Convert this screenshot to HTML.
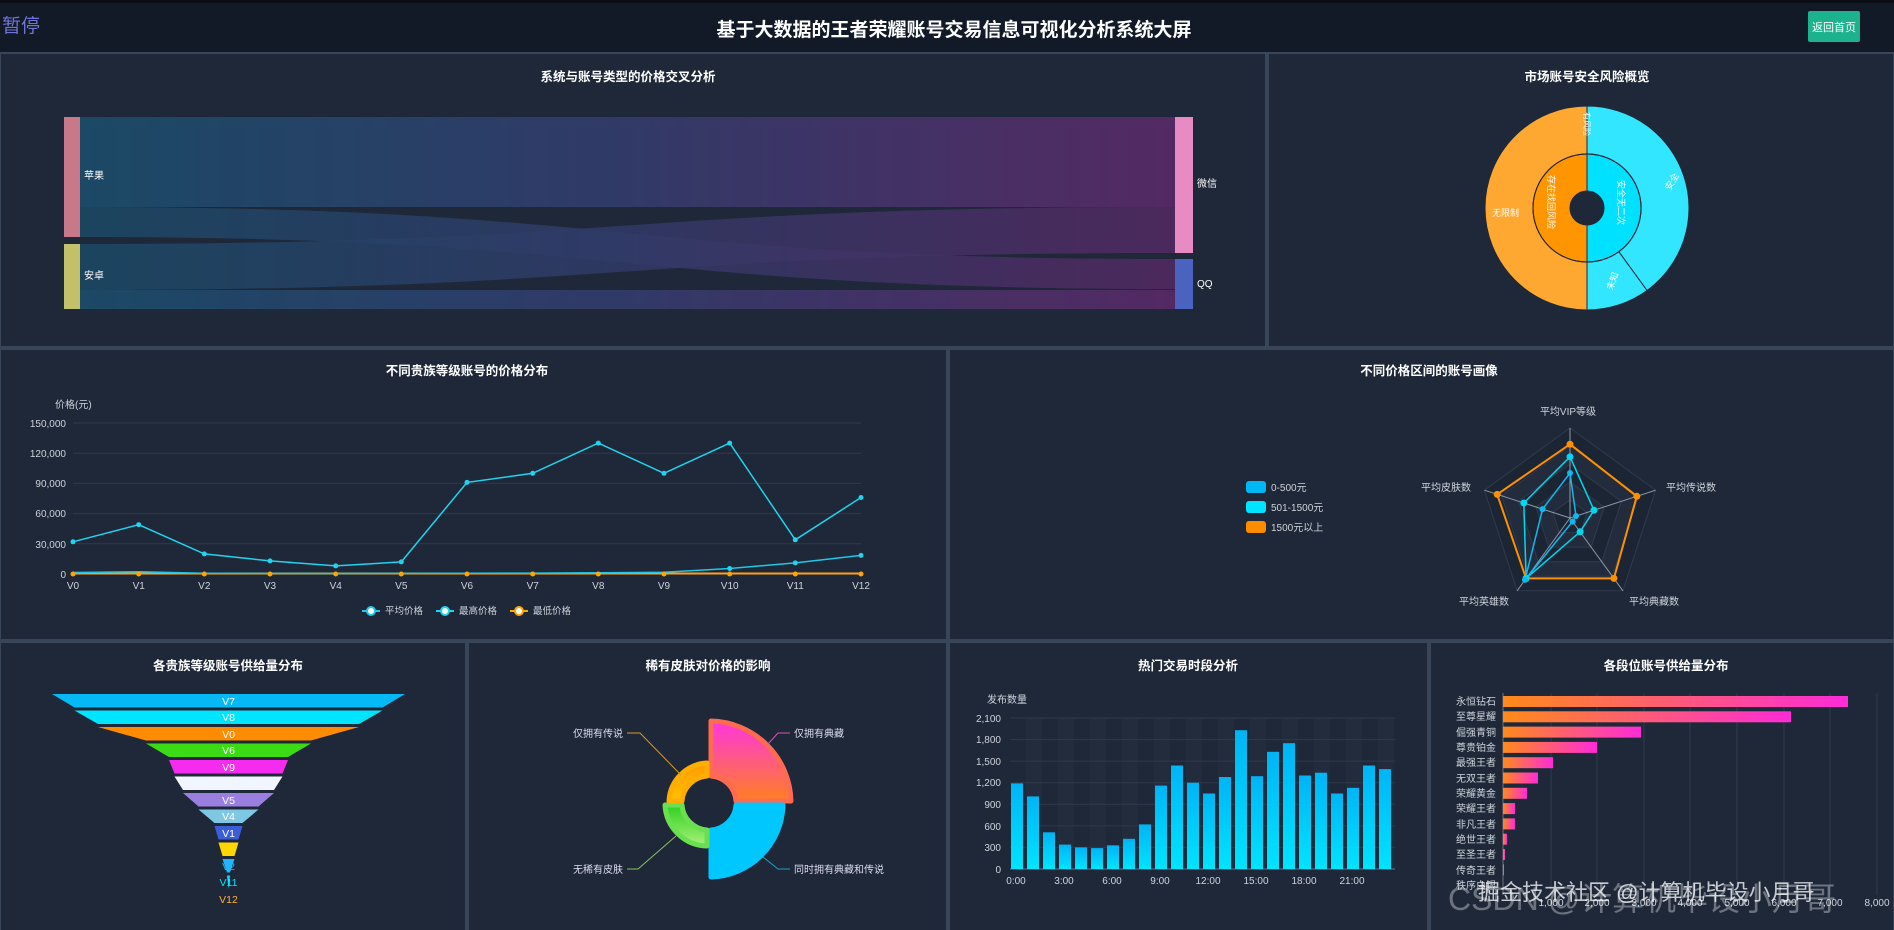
<!DOCTYPE html>
<html><head><meta charset="utf-8">
<style>
html,body{margin:0;padding:0;background:#1b2433;}
body{width:1894px;height:930px;overflow:hidden;position:relative;font-family:"Liberation Sans","Noto Sans CJK SC",sans-serif;}
svg{position:absolute;left:0;top:0;}
</style></head><body>
<svg width="1894" height="930" viewBox="0 0 1894 930" font-family="Liberation Sans, Noto Sans CJK SC, sans-serif">
<defs>
<linearGradient id="sk" x1="0" x2="1" y1="0" y2="0"><stop offset="0" stop-color="#1b4d6b"/><stop offset="0.5" stop-color="#343c6c"/><stop offset="1" stop-color="#5a2a68"/></linearGradient>
<linearGradient id="bar" x1="0" x2="0" y1="0" y2="1"><stop offset="0" stop-color="#00b4f5"/><stop offset="1" stop-color="#00e4ff"/></linearGradient>
<linearGradient id="hb" x1="0" x2="1" y1="0" y2="0"><stop offset="0" stop-color="#ff8a1a"/><stop offset="1" stop-color="#ff2bd8"/></linearGradient>
<linearGradient id="ra" x1="0" x2="0" y1="0" y2="1"><stop offset="0" stop-color="#ff35e0"/><stop offset="1" stop-color="#ff8020"/></linearGradient>
<linearGradient id="rc" x1="0" x2="0" y1="0" y2="1"><stop offset="0" stop-color="#30d020"/><stop offset="1" stop-color="#a8f07a"/></linearGradient>
<linearGradient id="rd" x1="0" x2="0" y1="0" y2="1"><stop offset="0" stop-color="#ff9a00"/><stop offset="1" stop-color="#ffc000"/></linearGradient>
</defs>
<!-- header -->
<rect x="0" y="0" width="1894" height="53" fill="#121a28"/>
<rect x="0" y="0" width="1894" height="3" fill="#0a0e14"/>
<text x="2" y="32" font-size="19" fill="#6f74d8">暂停</text>
<text x="954" y="36" font-size="19" font-weight="bold" fill="#fff" text-anchor="middle">基于大数据的王者荣耀账号交易信息可视化分析系统大屏</text>
<rect x="1808" y="11" width="52" height="31" rx="2" fill="#1bb28d"/>
<text x="1834" y="31" font-size="11" fill="#fff" text-anchor="middle">返回首页</text>
<!-- panels -->
<g fill="#1e2839" stroke="#39465a" stroke-width="2">
<rect x="0" y="53" width="1266" height="294"/>
<rect x="1268" y="53" width="626" height="294"/>
<rect x="0" y="349" width="947" height="291"/>
<rect x="949" y="349" width="945" height="291"/>
<rect x="0" y="642" width="466" height="290"/>
<rect x="468" y="642" width="479" height="290"/>
<rect x="949" y="642" width="479" height="290"/>
<rect x="1430" y="642" width="464" height="290"/>
</g>
<g font-size="12.5" font-weight="bold" fill="#fff" text-anchor="middle">
<text x="628" y="81">系统与账号类型的价格交叉分析</text>
<text x="1587" y="81">市场账号安全风险概览</text>
<text x="467" y="375">不同贵族等级账号的价格分布</text>
<text x="1429" y="375">不同价格区间的账号画像</text>
<text x="228" y="670">各贵族等级账号供给量分布</text>
<text x="708" y="670">稀有皮肤对价格的影响</text>
<text x="1188" y="670">热门交易时段分析</text>
<text x="1666" y="670">各段位账号供给量分布</text>
</g>
<!-- sankey -->
<g fill="url(#sk)" opacity="0.9">
<path d="M80,117 L1175,117 L1175,207 L80,207 Z"/>
<path d="M80,207 C627,207 627,259 1175,259 L1175,289 C627,289 627,237 80,237 Z" opacity="0.85"/>
<path d="M80,244 C627,244 627,207 1175,207 L1175,253 C627,253 627,290 80,290 Z" opacity="0.85"/>
<path d="M80,290 L1175,290 L1175,309 L80,309 Z"/>
</g>
<rect x="64" y="117" width="16" height="120" fill="#c9788a"/>
<rect x="64" y="244" width="16" height="65" fill="#c3c06a"/>
<rect x="1175" y="117" width="18" height="136" fill="#e88ac4"/>
<rect x="1175" y="259" width="18" height="50" fill="#4a62c0"/>
<g font-size="10" fill="#fff">
<text x="84" y="179">苹果</text><text x="84" y="279">安卓</text>
<text x="1197" y="187">微信</text><text x="1197" y="287">QQ</text>
</g>
<!-- sunburst -->
<g stroke="#1e2839" stroke-width="1">
<path d="M1587,310 A102,102 0 0 1 1587,106 L1587,154 A54,54 0 0 0 1587,262 Z" fill="#ffa831"/>
<path d="M1587,106 A102,102 0 0 1 1647,290.5 L1618.8,251.7 A54,54 0 0 0 1587,154 Z" fill="#33e6ff"/>
<path d="M1647,290.5 A102,102 0 0 1 1587,310 L1587,262 A54,54 0 0 0 1618.8,251.7 Z" fill="#33e6ff"/>
<path d="M1587,154 A54,54 0 0 1 1587,262 L1587,225 A17,17 0 0 0 1587,191 Z" fill="#00e1ff"/>
<path d="M1587,262 A54,54 0 0 1 1587,154 L1587,191 A17,17 0 0 0 1587,225 Z" fill="#ff9500"/>
</g>
<circle cx="1587" cy="208" r="54" fill="none" stroke="#223" stroke-width="1"/>
<line x1="1587" y1="106" x2="1587" y2="154" stroke="#223"/>
<g font-size="9" fill="#fff">
<text x="1492" y="216">无限制</text>
<text x="1665" y="188" transform="rotate(-60 1670 185)">安全</text>
<text x="1605" y="286" transform="rotate(-70 1612 283)">未知</text>
<text x="1548" y="175" transform="rotate(90 1548 175)">存在找回风险</text>
<text x="1618" y="180" transform="rotate(90 1618 180)">安全无二次</text>
<text x="1584" y="112" transform="rotate(90 1584 112)" font-size="8">有风险</text>
</g>
<!-- line chart -->
<g stroke="#2e3a4d" stroke-width="1">
<line x1="73" y1="423" x2="861" y2="423"/><line x1="73" y1="453.2" x2="861" y2="453.2"/>
<line x1="73" y1="483.4" x2="861" y2="483.4"/><line x1="73" y1="513.6" x2="861" y2="513.6"/>
<line x1="73" y1="543.8" x2="861" y2="543.8"/>
</g>
<line x1="73" y1="574" x2="861" y2="574" stroke="#6e7079"/>
<g font-size="10" fill="#cfd3da" text-anchor="end">
<text x="66" y="427">150,000</text><text x="66" y="457">120,000</text><text x="66" y="487">90,000</text>
<text x="66" y="517">60,000</text><text x="66" y="548">30,000</text><text x="66" y="578">0</text>
</g>
<text x="55" y="408" font-size="10" fill="#cfd3da">价格(元)</text>
<g font-size="10" fill="#cfd3da" text-anchor="middle">
<text x="73" y="589">V0</text><text x="138.7" y="589">V1</text><text x="204.3" y="589">V2</text><text x="270" y="589">V3</text><text x="335.7" y="589">V4</text><text x="401.3" y="589">V5</text><text x="467" y="589">V6</text><text x="532.7" y="589">V7</text><text x="598.3" y="589">V8</text><text x="664" y="589">V9</text><text x="729.7" y="589">V10</text><text x="795.3" y="589">V11</text><text x="861" y="589">V12</text>
</g>
<polyline fill="none" stroke="#ff9f1a" stroke-width="2" points="73,573.5 861,573.5"/>
<polyline fill="none" stroke="#1ec8e6" stroke-width="1.5" points="73,572.5 138.7,571.8 204.3,573.2 270,573.4 335.7,573.5 401.3,573.4 467,573.2 532.7,573.1 598.3,572.8 664,572.2 729.7,568.5 795.3,562.9 861,555.4"/>
<polyline fill="none" stroke="#22d3ee" stroke-width="1.5" points="73,541.8 138.7,524.7 204.3,553.9 270,560.9 335.7,565.9 401.3,561.9 467,482.4 532.7,473.3 598.3,443.1 664,473.3 729.7,443.1 795.3,539.8 861,497.5"/>
<g fill="#22d3ee">
<circle cx="73" cy="541.8" r="2.5"/><circle cx="138.7" cy="524.7" r="2.5"/><circle cx="204.3" cy="553.9" r="2.5"/><circle cx="270" cy="560.9" r="2.5"/><circle cx="335.7" cy="565.9" r="2.5"/><circle cx="401.3" cy="561.9" r="2.5"/><circle cx="467" cy="482.4" r="2.5"/><circle cx="532.7" cy="473.3" r="2.5"/><circle cx="598.3" cy="443.1" r="2.5"/><circle cx="664" cy="473.3" r="2.5"/><circle cx="729.7" cy="443.1" r="2.5"/><circle cx="795.3" cy="539.8" r="2.5"/><circle cx="861" cy="497.5" r="2.5"/>
<circle cx="729.7" cy="568.5" r="2.5"/><circle cx="795.3" cy="562.9" r="2.5"/><circle cx="861" cy="555.4" r="2.5"/>
</g>
<g fill="#ffa500">
<circle cx="73" cy="574" r="2.5"/><circle cx="138.7" cy="574" r="2.5"/><circle cx="204.3" cy="574" r="2.5"/><circle cx="270" cy="574" r="2.5"/><circle cx="335.7" cy="574" r="2.5"/><circle cx="401.3" cy="574" r="2.5"/><circle cx="467" cy="574" r="2.5"/><circle cx="532.7" cy="574" r="2.5"/><circle cx="598.3" cy="574" r="2.5"/><circle cx="664" cy="574" r="2.5"/><circle cx="729.7" cy="574" r="2.5"/><circle cx="795.3" cy="574" r="2.5"/><circle cx="861" cy="574" r="2.5"/>
</g>
<g font-size="9.5" fill="#cfd3da">
<line x1="362" y1="611" x2="380" y2="611" stroke="#1ec8e6" stroke-width="2"/><circle cx="371" cy="611" r="4" fill="#fff" stroke="#1ec8e6" stroke-width="2"/><text x="385" y="614">平均价格</text>
<line x1="436" y1="611" x2="454" y2="611" stroke="#22d3ee" stroke-width="2"/><circle cx="445" cy="611" r="4" fill="#fff" stroke="#22d3ee" stroke-width="2"/><text x="459" y="614">最高价格</text>
<line x1="510" y1="611" x2="528" y2="611" stroke="#ffa500" stroke-width="2"/><circle cx="519" cy="611" r="4" fill="#fff" stroke="#ffa500" stroke-width="2"/><text x="533" y="614">最低价格</text>
</g>
<!-- radar -->
<g stroke="#2e3a4d" stroke-width="1">
<polygon points="1570,428 1655.6,490.2 1622.9,590.8 1517.1,590.8 1484.4,490.2" fill="#1c2534"/>
<polygon points="1570,446 1638.5,495.8 1612.3,576.2 1527.7,576.2 1501.5,495.8" fill="#222c3d"/>
<polygon points="1570,464 1621.4,501.3 1601.8,561.7 1538.2,561.7 1518.6,501.3" fill="#1c2534"/>
<polygon points="1570,482 1604.2,506.9 1591.2,547.1 1548.8,547.1 1535.8,506.9" fill="#222c3d"/>
<polygon points="1570,500 1587.1,512.4 1580.6,532.6 1559.4,532.6 1552.9,512.4" fill="#1c2534"/>
</g>
<g stroke="#9098a5" stroke-width="1">
<line x1="1570" y1="518" x2="1570" y2="428"/><line x1="1570" y1="518" x2="1655.6" y2="490.2"/><line x1="1570" y1="518" x2="1622.9" y2="590.8"/><line x1="1570" y1="518" x2="1517.1" y2="590.8"/><line x1="1570" y1="518" x2="1484.4" y2="490.2"/>
</g>
<polygon points="1570,444.2 1636.8,496.3 1613.9,578.4 1526.1,578.4 1497.2,494.4" fill="none" stroke="#ff9000" stroke-width="2"/>
<polygon points="1570,456.8 1594,510.2 1580.1,531.8 1526.1,578.4 1523.8,503" fill="none" stroke="#00d8f0" stroke-width="1.5"/>
<polygon points="1570,473 1576,516 1572.6,521.6 1525,579.9 1542.6,509.1" fill="none" stroke="#10b8f0" stroke-width="1.5"/>
<g fill="#ff9000"><circle cx="1570" cy="444.2" r="3.5"/><circle cx="1636.8" cy="496.3" r="3.5"/><circle cx="1613.9" cy="578.4" r="3.5"/><circle cx="1526.1" cy="578.4" r="3.5"/><circle cx="1497.2" cy="494.4" r="3.5"/></g>
<g fill="#00d8f0"><circle cx="1570" cy="456.8" r="3.5"/><circle cx="1594" cy="510.2" r="3.5"/><circle cx="1580.1" cy="531.8" r="3.5"/><circle cx="1526.1" cy="578.4" r="3.5"/><circle cx="1523.8" cy="503" r="3.5"/></g>
<g fill="#10b8f0"><circle cx="1570" cy="473" r="3"/><circle cx="1576" cy="516" r="3"/><circle cx="1572.6" cy="521.6" r="3"/><circle cx="1525" cy="579.9" r="3"/><circle cx="1542.6" cy="509.1" r="3"/></g>
<g font-size="10" fill="#cfd3da" text-anchor="middle">
<text x="1568" y="415">平均VIP等级</text><text x="1691" y="491">平均传说数</text><text x="1446" y="491">平均皮肤数</text><text x="1484" y="605">平均英雄数</text><text x="1654" y="605">平均典藏数</text>
</g>
<g font-size="10" fill="#cfd3da">
<rect x="1246" y="481" width="20" height="12" rx="3" fill="#00b8f5"/><text x="1271" y="491">0-500元</text>
<rect x="1246" y="501" width="20" height="12" rx="3" fill="#00e4ff"/><text x="1271" y="511">501-1500元</text>
<rect x="1246" y="521" width="20" height="12" rx="3" fill="#ff8c00"/><text x="1271" y="531">1500元以上</text>
</g>
<!-- funnel -->
<polygon points="52,694 405,694 382.5,707.5 74.5,707.5" fill="#05b9f5"/>
<polygon points="74.5,710.5 382.5,710.5 359,724 98,724" fill="#00e5ff"/>
<polygon points="98,727 359,727 311,740.5 146,740.5" fill="#ff8c00"/>
<polygon points="146,743.5 311,743.5 288,757 169,757" fill="#3bdc16"/>
<polygon points="169,760 288,760 282.5,773.5 174.5,773.5" fill="#f52cf0"/>
<polygon points="174.5,776.5 282.5,776.5 274,790 183,790" fill="#f0f5ff"/>
<polygon points="183,793 274,793 258.5,806.5 198.5,806.5" fill="#9b7fe0"/>
<polygon points="198.5,809.5 258.5,809.5 242.5,823 214.5,823" fill="#7ec8e3"/>
<polygon points="214.5,826 242.5,826 238.5,839.5 218.5,839.5" fill="#3b5ed8"/>
<polygon points="218.5,842.5 238.5,842.5 234.5,856 222.5,856" fill="#ffd700"/>
<polygon points="222.5,859 234.5,859 230,872.5 227,872.5" fill="#1fb6ff"/>
<polygon points="227,875.5 230,875.5 228.5,889" fill="#00e5ff"/>
<g font-size="10.5" fill="#fff" text-anchor="middle">
<text x="228.5" y="705">V7</text><text x="228.5" y="721">V8</text><text x="228.5" y="738">V0</text><text x="228.5" y="754">V6</text><text x="228.5" y="771">V9</text><text x="228.5" y="804">V5</text><text x="228.5" y="820">V4</text><text x="228.5" y="837">V1</text>
<text x="228.5" y="853" fill="#ffd700">V3</text><text x="228.5" y="870" fill="#1fb6ff">V2</text><text x="228.5" y="886" fill="#00e5ff">V11</text><text x="228.5" y="903" fill="#ffb040">V12</text>
</g>
<!-- rose -->
<g stroke-linejoin="round" stroke-width="5">
<path d="M711,721 A82,82 0 0 1 791,801 L736,801 A27,27 0 0 0 711,776 Z" fill="url(#ra)" stroke="#ff6a50"/>
<path d="M783,805 A74,74 0 0 1 711,877 L711,830 A27,27 0 0 0 736,805 Z" fill="#00c8ff" stroke="#00c8ff"/>
<path d="M707,846 A43,43 0 0 1 665,805 L682,805 A27,27 0 0 0 707,830 Z" fill="url(#rc)" stroke="#6ae050"/>
<path d="M669,801 A40,40 0 0 1 707,763 L707,776 A27,27 0 0 0 682,801 Z" fill="url(#rd)" stroke="#ffae00"/>
</g>
<g fill="none" stroke-width="1">
<polyline points="681,775 640,733 627,733" stroke="#d99a20"/>
<polyline points="768,744 778,733 790,733" stroke="#e050b0"/>
<polyline points="676,836 638,869 627,869" stroke="#8ac060"/>
<polyline points="763,857 778,869 790,869" stroke="#20a0c0"/>
</g>
<g font-size="10" fill="#dde">
<text x="623" y="737" text-anchor="end">仅拥有传说</text>
<text x="794" y="737">仅拥有典藏</text>
<text x="623" y="873" text-anchor="end">无稀有皮肤</text>
<text x="794" y="873">同时拥有典藏和传说</text>
</g>
<!-- time bars -->
<g fill="#222c3d">
<rect x="1026" y="718" width="16" height="151"/><rect x="1058" y="718" width="16" height="151"/><rect x="1090" y="718" width="16" height="151"/><rect x="1122" y="718" width="16" height="151"/><rect x="1154" y="718" width="16" height="151"/><rect x="1186" y="718" width="16" height="151"/><rect x="1218" y="718" width="16" height="151"/><rect x="1250" y="718" width="16" height="151"/><rect x="1282" y="718" width="16" height="151"/><rect x="1314" y="718" width="16" height="151"/><rect x="1346" y="718" width="16" height="151"/><rect x="1378" y="718" width="16" height="151"/>
</g>
<g stroke="#2e3a4d"><line x1="1010" y1="718" x2="1395" y2="718"/><line x1="1010" y1="739.6" x2="1395" y2="739.6"/><line x1="1010" y1="761.1" x2="1395" y2="761.1"/><line x1="1010" y1="782.7" x2="1395" y2="782.7"/><line x1="1010" y1="804.3" x2="1395" y2="804.3"/><line x1="1010" y1="825.9" x2="1395" y2="825.9"/><line x1="1010" y1="847.4" x2="1395" y2="847.4"/></g>
<line x1="1010" y1="869" x2="1395" y2="869" stroke="#6e7079"/>
<g fill="url(#bar)">
<rect x="1011" y="783.4" width="12" height="85.6"/><rect x="1027" y="796.4" width="12" height="72.6"/><rect x="1043" y="832.3" width="12" height="36.7"/><rect x="1059" y="844.6" width="12" height="24.4"/><rect x="1075" y="847.4" width="12" height="21.6"/><rect x="1091" y="848.1" width="12" height="20.9"/><rect x="1107" y="845.3" width="12" height="23.7"/><rect x="1123" y="838.8" width="12" height="30.2"/><rect x="1139" y="824.4" width="12" height="44.6"/><rect x="1155" y="785.6" width="12" height="83.4"/><rect x="1171" y="765.5" width="12" height="103.5"/><rect x="1187" y="782.7" width="12" height="86.3"/><rect x="1203" y="793.5" width="12" height="75.5"/><rect x="1219" y="777" width="12" height="92"/><rect x="1235" y="730.2" width="12" height="138.8"/><rect x="1251" y="776.2" width="12" height="92.8"/><rect x="1267" y="751.8" width="12" height="117.2"/><rect x="1283" y="743.2" width="12" height="125.8"/><rect x="1299" y="775.5" width="12" height="93.5"/><rect x="1315" y="772.7" width="12" height="96.3"/><rect x="1331" y="793.5" width="12" height="75.5"/><rect x="1347" y="787.8" width="12" height="81.2"/><rect x="1363" y="765.5" width="12" height="103.5"/><rect x="1379" y="769.1" width="12" height="99.9"/>
</g>
<text x="987" y="703" font-size="10" fill="#cfd3da">发布数量</text>
<g font-size="10" fill="#cfd3da" text-anchor="end">
<text x="1001" y="722">2,100</text><text x="1001" y="743">1,800</text><text x="1001" y="765">1,500</text><text x="1001" y="786">1,200</text><text x="1001" y="808">900</text><text x="1001" y="830">600</text><text x="1001" y="851">300</text><text x="1001" y="873">0</text>
</g>
<g font-size="10" fill="#cfd3da" text-anchor="middle">
<text x="1016" y="884">0:00</text><text x="1064" y="884">3:00</text><text x="1112" y="884">6:00</text><text x="1160" y="884">9:00</text><text x="1208" y="884">12:00</text><text x="1256" y="884">15:00</text><text x="1304" y="884">18:00</text><text x="1352" y="884">21:00</text>
</g>
<!-- horizontal bars -->
<g stroke="#2e3a4d"><line x1="1551" y1="693" x2="1551" y2="895"/><line x1="1597" y1="693" x2="1597" y2="895"/><line x1="1644" y1="693" x2="1644" y2="895"/><line x1="1690" y1="693" x2="1690" y2="895"/><line x1="1737" y1="693" x2="1737" y2="895"/><line x1="1784" y1="693" x2="1784" y2="895"/><line x1="1830" y1="693" x2="1830" y2="895"/><line x1="1877" y1="693" x2="1877" y2="895"/></g>
<line x1="1503" y1="693" x2="1503" y2="895" stroke="#6e7079"/>
<g fill="url(#hb)">
<rect x="1503" y="696" width="345" height="11"/><rect x="1503" y="711.3" width="288" height="11"/><rect x="1503" y="726.6" width="138" height="11"/><rect x="1503" y="741.9" width="94" height="11"/><rect x="1503" y="757.2" width="50" height="11"/><rect x="1503" y="772.5" width="35" height="11"/><rect x="1503" y="787.8" width="24" height="11"/><rect x="1503" y="803.1" width="12" height="11"/><rect x="1503" y="818.4" width="12" height="11"/><rect x="1503" y="833.7" width="4" height="11"/><rect x="1503" y="849" width="2" height="11"/><rect x="1503" y="864.3" width="1" height="11"/>
</g>
<g font-size="10" fill="#cfd3da" text-anchor="end">
<text x="1496" y="705">永恒钻石</text><text x="1496" y="720">至尊星耀</text><text x="1496" y="736">倔强青铜</text><text x="1496" y="751">尊贵铂金</text><text x="1496" y="766">最强王者</text><text x="1496" y="782">无双王者</text><text x="1496" y="797">荣耀黄金</text><text x="1496" y="812">荣耀王者</text><text x="1496" y="828">非凡王者</text><text x="1496" y="843">绝世王者</text><text x="1496" y="858">至圣王者</text><text x="1496" y="874">传奇王者</text><text x="1496" y="889">秩序白银</text>
</g>
<g font-size="10" fill="#cfd3da" text-anchor="middle">
<text x="1551" y="906">1,000</text><text x="1597" y="906">2,000</text><text x="1644" y="906">3,000</text><text x="1690" y="906">4,000</text><text x="1737" y="906">5,000</text><text x="1784" y="906">6,000</text><text x="1830" y="906">7,000</text><text x="1877" y="906">8,000</text>
</g>
<!-- watermark -->
<text x="1448" y="910" font-size="32" fill="#ffffff" fill-opacity="0.35">CSDN @计算机毕设小月哥</text>
<text x="1478" y="900" font-size="22" fill="#ffffff" fill-opacity="0.75">掘金技术社区 @计算机毕设小月哥</text>
</svg>
</body></html>
